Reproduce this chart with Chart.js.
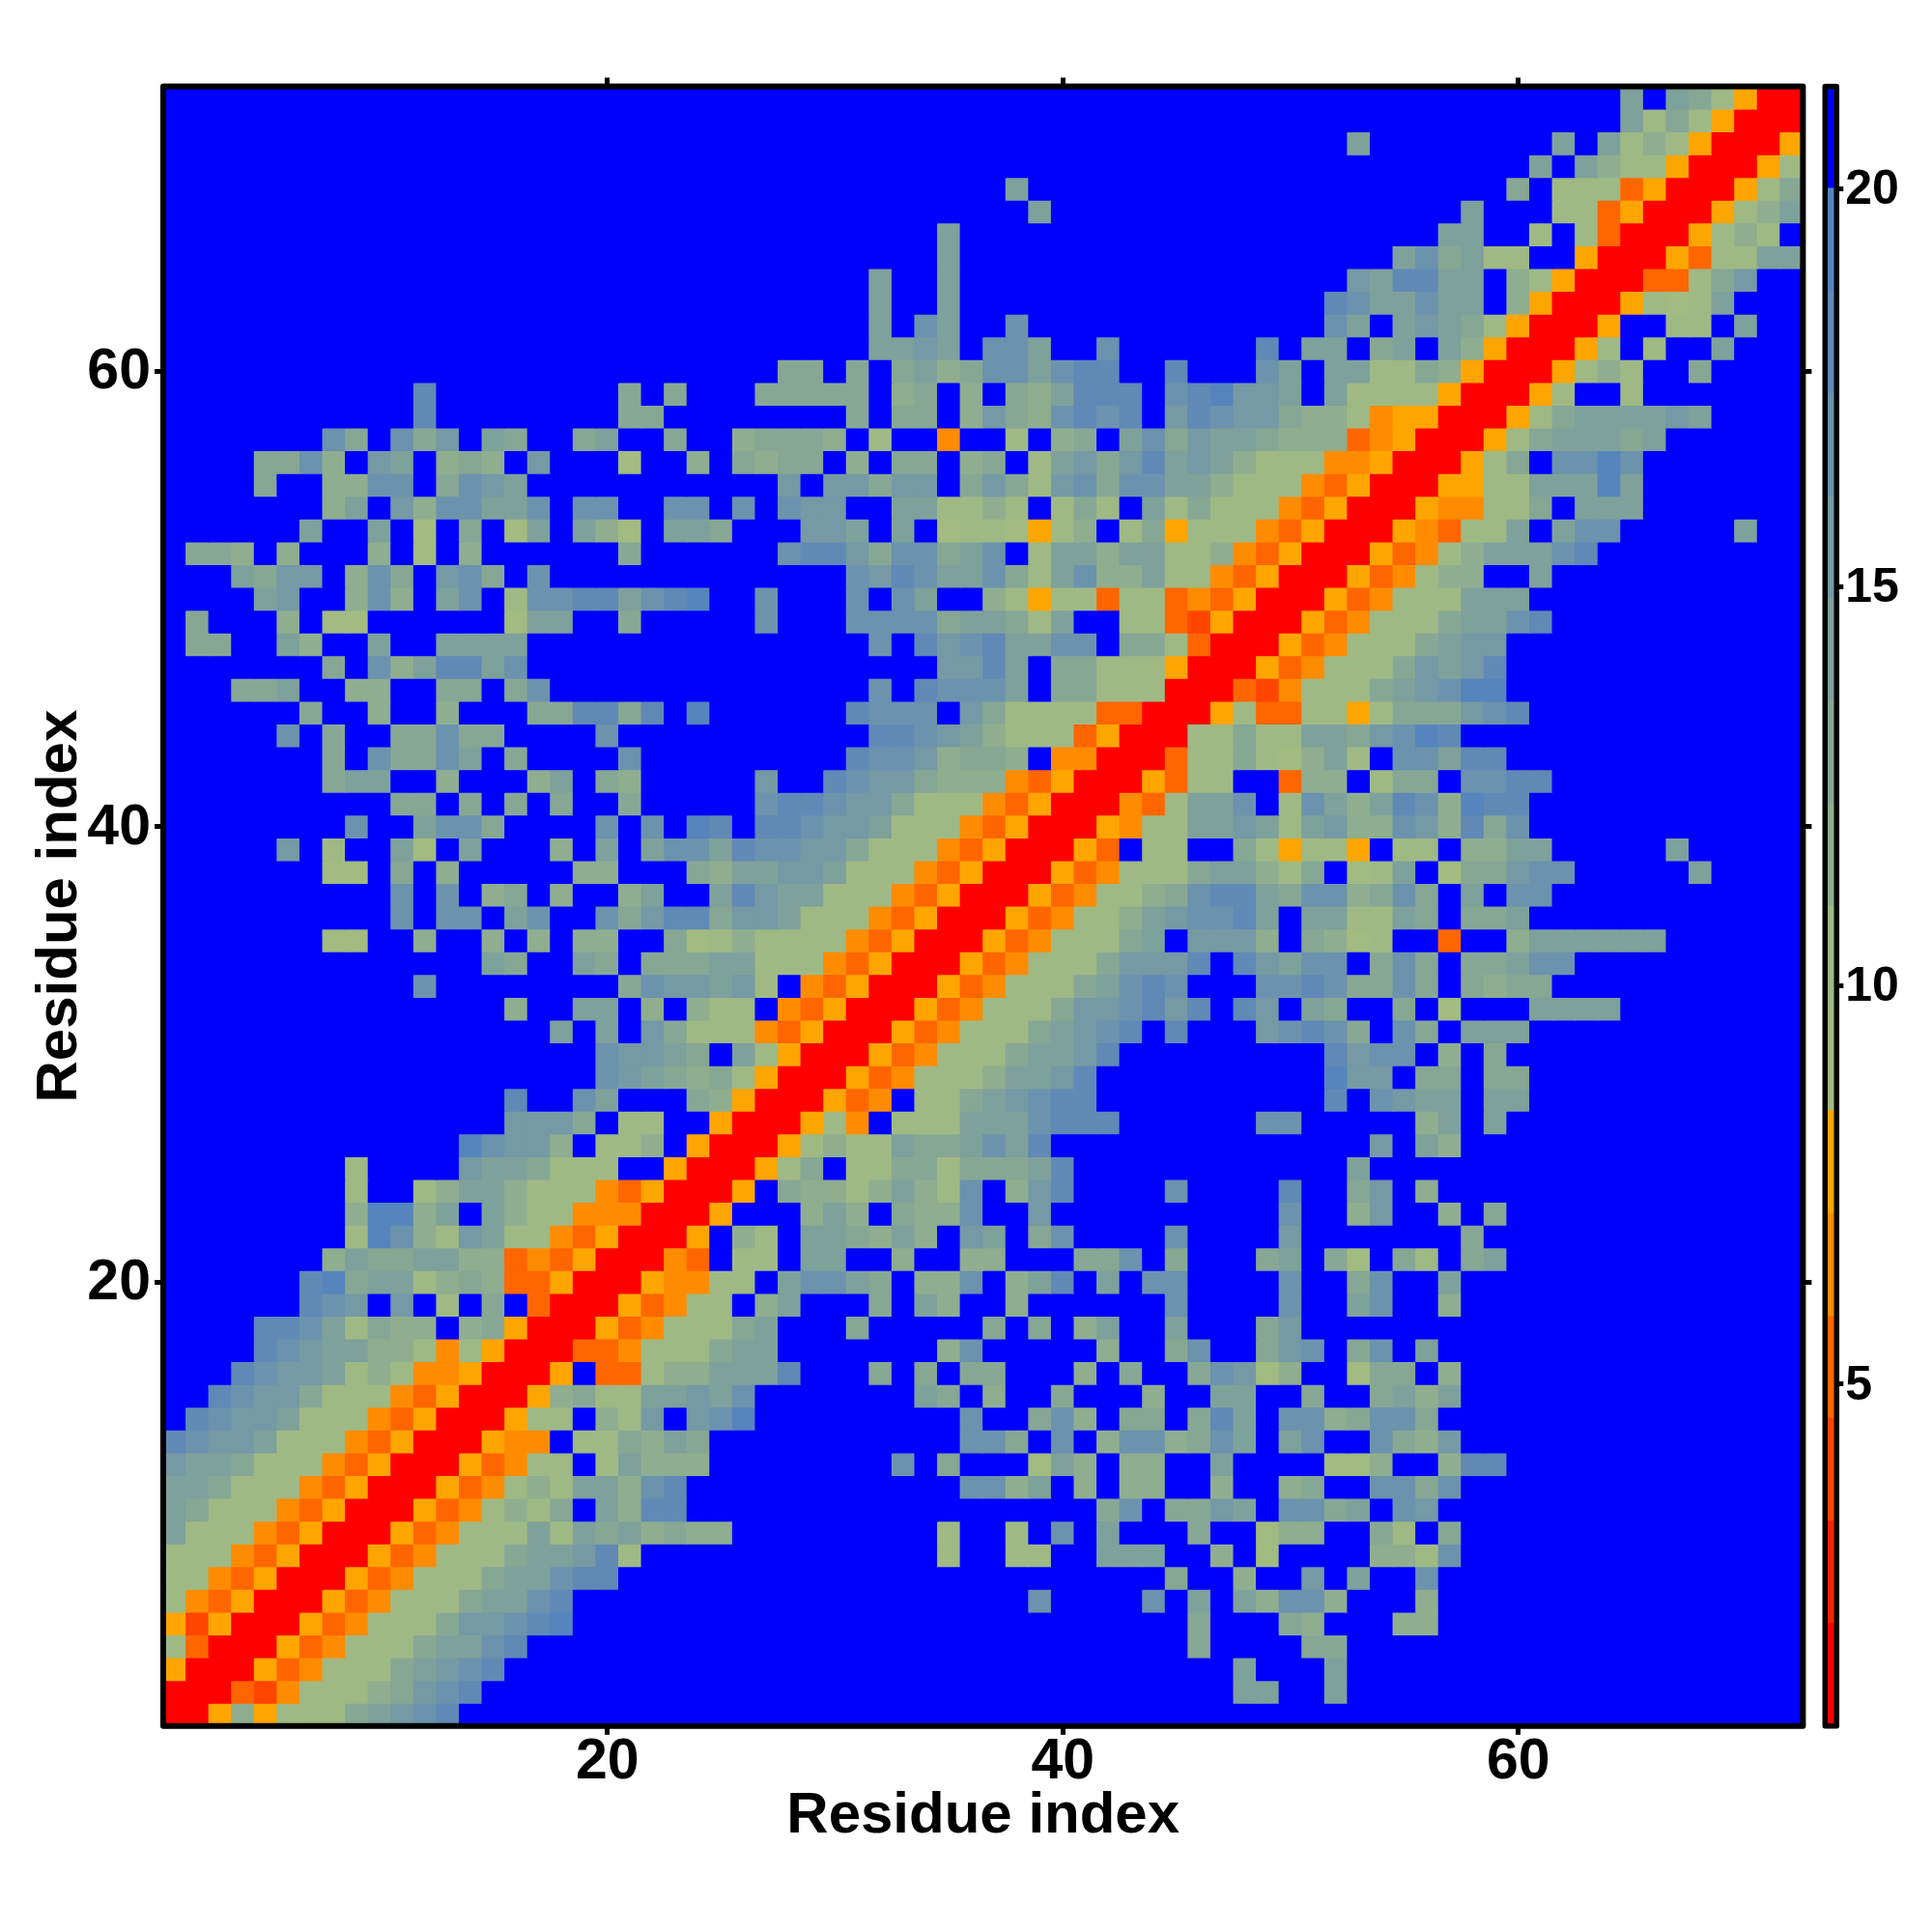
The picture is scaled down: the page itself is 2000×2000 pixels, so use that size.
<!DOCTYPE html>
<html>
<head>
<meta charset="utf-8">
<title>Residue contact map</title>
<script src="https://cdn.jsdelivr.net/npm/chart.js@4"></script>
<style>
  html, body { margin: 0; background: #fff; }
  canvas { position: absolute; top: 0; }
  #map { left: 0; }
  #bar { left: 1880px; }
</style>
</head>
<body>
<canvas id="map" width="2000" height="2000"></canvas>
<canvas id="bar" width="120" height="2000"></canvas>
<script>
const axisTicks = [20, 40, 60];
const barTicks = [5, 10, 15, 20];

// colour bands of the key, bottom to top
const levelEdges = [0.71, 2.0, 3.28, 4.57, 5.85, 7.14, 8.43, 9.71, 11.0, 12.28, 13.57, 14.85, 16.14, 17.43, 18.71, 20.0, 21.28];
const levelColors = ['#ff0000', '#ff2200', '#ff4500', '#ff6600', '#ff8c00', '#ffa500',
  '#a1bb80', '#9fb985', '#8fae8f', '#87a795', '#7fa19b', '#7599a5', '#6b93ad', '#6089b5', '#5585bc', '#0000ff'];

// one string per row, top row (72) first, ten columns per group
// each character is a band of the key in hex, '.' is the top band
const levelRows = [
  ".......... .......... .......... .......... .......... .......... ....a.a975 00",
  ".......... .......... .......... .......... .......... .......... ....a79750 00",
  ".......... .......... .......... .......... .......... ..a....... .a.a787500 05",
  ".......... .......... .......... .......... .......... .......... a.a8775000 57",
  ".......... .......... .......... .......a.. .......... .........9 .777350005 79",
  ".......... .......... .......... ........a. .......... .......a.. .773500057 8a",
  ".......... .......... .......... ....a..... .......... ......aa.. 7.73000578 7.",
  ".......... .......... .......... ....a..... .......... ....ac9a77 ..50005377 aa",
  ".......... .......... .......... .a..a..... .......... ..baddaa.8 750003379b ..",
  ".......... .......... .......... .a..a..... .......... .dcaacaa.8 50005767a. ..",
  ".......... .......... .......... .a.ca..c.. .......... .ca.aba975 0005..77.a ..",
  ".......... .......... .......... .aaba.cca. .c......d. aa.9a.a850 0057.7..a. ..",
  ".......... .......... .......99. 9.9a89ccac dd..d...ca .aa7798500 05787..9.. ..",
  ".......... .d........ 9.9...9999 9.89.8.98a ddd.cdebba .a77775000 57..7..... ..",
  ".......... .d........ 99........ 9.99.8b98c dcd.bdcbb9 8874550005 79aaaaba.. ..",
  ".......c9. c9b.a9..9a ..9..89998 .7..4..7.8 9.ac9baa98 8834500057 9aaa9a.... ..",
  "....99c8.b a.898.b... 6..8.9899. 8.99.89.7a b9bdaba877 7445000579 .ccec..... ..",
  "....9..88c c.9cba.... .......b.b b9bb.9b97b c9ccaa8777 4350005577 aaaea..... ..",
  ".......8a. b8ccaac.cc ..cc.c.cbb ..aa7787.7 97.a797774 3500054477 9.aaa..... ..",
  "......a..a .6.9.6a.a8 6.aa9...bb a.a.677657 8.79577743 500054377a .acc.....a ..",
  ".998.8...8 .6.8...... 9......cdd b9cc9ac.7a a8aa778435 00053478aa acd....... ..",
  "...a9bb.8c 9.bc9.c... .......... cbdcaac97a c88a774350 00534788.. a......... ..",
  "....ab..8c 8.ac.7ccdd acde..c... c.ca..8757 7377343500 0534777aaa .......... ..",
  ".9...8.66. .....6aa.. 9.....c... cccc9aa97a ..77325000 5347779aac d......... ..",
  ".99..a8..a ..aaaa.... .......... .c.dbcdaac c.99730005 347779abb. .......... ..",
  ".......9.c 8addac.... .......... ....bbda.9 9777500053 47779babd. .......... ..",
  "...99a..88 ..99.9c... .......... .c.dccca.9 9777000324 7779abcee. .......... ..",
  "......9..8 ..8...99dd 9d.e...... dccc.b9777 7330005733 7757999bcd .......... ..",
  ".....c.9.. 99c99....c .......... .ddcba8777 3500077977 aa9bced... .......... ..",
  ".......9.c 99ca.9.... c......... dccb8998.4 4000377976 8a7.ccadd. .......... ..",
  ".......9aa ..8...8a.9 8.....b..d cbb9888435 0005377..3 88.799.ccd d......... ..",
  ".......... 99.9.9.9.. 9.....cddc bb97774350 00437aac.7 ca8adc8edd .......... ..",
  "........c. .acc9....c .c.ed.ddcb ba77743500 05477aaba7 ab88cb8d9c .......... ..",
  ".....b.7.. a6.a...8.a .accadccbb 9777435000 53.77..975 775.77.88a a.....a... ..",
  ".......66. 9.8.....88 ...98aabba 7774350005 347779aa87 9.67a.699b cc.....a.. ..",
  ".......... c.c.89.8.. 8a..adbaa7 7743500053 47789cdda9 cc89c9.a.c c......... ..",
  ".......... c.cc.ac..c 9bdd9bba77 7435000534 778abccda. aa77a9.99a .......... ..",
  ".......66. .8..8.8.88 ..96787777 4350005347 779a.bbb8. 9867..3..8 aaaaaa.... ..",
  ".......... ....a9..a9 .999aa7774 3500053477 79bbbd.dba cc.9c9.99a cc........ ..",
  ".......... .c........ 9cbbab7.43 5000534777 9acdc...cc dc99c9.989 9......... ..",
  ".......... .....8..aa .8.877.435 0005347779 bbcdbd.db. a9..9.6... aaaa...... ..",
  ".......... .......a.a .b97774350 005347779a bcd.d...bc dc9.c9.aaa .......... ..",
  ".......... .........c bba9.a7500 05347779aa bd........ .dbcc.8.9. .......... ..",
  ".......... .........c ba98975000 5347778aab d......... .ebb.99.99 .......... ..",
  ".......... .....d..ca ...9850005 34.779abcd d......... .d.cbaa.aa .......... ..",
  ".......... .....bbb9. 77..500057 4.777aaacd dd......cc .....8a.a. .......... ..",
  ".......... ...ecbb8.7 78.5000578 77a99acad. .......... ...b.a8... .......... ..",
  "........7. ...baa9777 ..5000579. 77997999ad .......... ..a....... .......... ..",
  "........7. .78aa87774 350005.988 78a87c.8bd ....c....d ..9b.8.... .......... ..",
  "........8e e8a.a87744 40005...8a 8.988c..b. .........c ..8b..8.9. .......... ..",
  "........7e c87ba77435 0005.87.aa 98a8.ba.9c ....c....b .......9.. .......... ..",
  ".......8a9 9aa8834350 0043.77.aa ..8..88... 99c.9...9a .96.97.9a. .......... ..",
  "......de9a a789833500 054477.acc a9.88c.8ad .a.cc....c ..9c..a... .......... ..",
  "......dcb. b.7.9.3000 53477.8a.. .9.a8..8.. ....c....c ..ac..8... .......... ..",
  "....ddca79 88.8950005 347779a... 9.....9.9. 8a..a...9b .......... .......... ..",
  "....dcbaa8 8747500033 47779aa... ....8c.... .8..9c..9b c.9c.a.... .......... ..",
  "...dcbba78 74450005.3 3788aaad.. .9.9.99... 8.9..9cb68 ..699.8... .......... ..",
  "..dcbb9777 4350005897 7aabac.... ...a9.8..9 ...8..aa.. 9..9a8a... .......... ..",
  ".dcbba7774 35000577.8 7b.bce.... .....c..9c 8.99.9da.c c89cc9.... .......... ..",
  "dcbba77743 5000544.77 98a9...... .....cc9.c .8cc89ca.a c..c98b... .......... ..",
  "baa9777435 00053477.7 a888...... ..c.9...6a 8.88..a... .668..8dd. .......... ..",
  "aa97774350 00534787aa 8cd....... .....cc8a. 8.88..8..8 9..cc9c... .......... ..",
  "a977743500 05347879.a 8dd....... .......... .9c.99ba.c c9a.cb.... .......... ..",
  "a777435000 534777a7a9 a8988..... ....7..7.c .a...9..68 8..97.9... .......... ..",
  "7774350005 347779aabd 7......... ....7..77. .aaa..8.6. ...887c... .......... ..",
  "7743500053 47779aacdd .......... .......... ....9..8.. b.a..c.... .......... ..",
  "7435000534 7779aacd.. .......... ........c. ...c.a.a8c c8...8.... .......... ..",
  "5250005347 779bbcde.. .......... .......... .....9...9 8...88.... .......... ..",
  "7300053477 79aacd.... .......... .......... .....9.... 99........ .......... ..",
  "5000534777 9abcd..... .......... .......... .......a.. .a........ .......... ..",
  "0003247778 9bcd...... .......... .......... .......aa. .a........ .......... ..",
  "005857779a bcd....... .......... .......... .......... .......... .......... .."
];

Chart.defaults.font.family = '"Liberation Sans", Arial, sans-serif';
Chart.defaults.font.weight = 'bold';
Chart.defaults.color = '#000';

const cells = levelRows.map(r => r.replace(/ /g, '').split('').map(ch => ch === '.' ? 15 : parseInt(ch, 16)));

const mapDatasets = cells.map((row, i) => {
  const yVal = 72 - i;
  return {
    data: row.map((lvl, j) => ({ x: j + 1, y: [yVal - 0.5, yVal + 0.5] })),
    backgroundColor: row.map(lvl => levelColors[lvl]),
    borderWidth: 0,
    inflateAmount: 0.5,
    barPercentage: 1,
    categoryPercentage: 1,
    grouped: false
  };
});

// black box centred on the edge of the plot
const framePlugin = {
  id: 'frame',
  afterDraw(chart, args, opts) {
    const a = chart.chartArea, c = chart.ctx;
    c.save();
    c.strokeStyle = '#000';
    c.lineWidth = opts.lineWidth;
    c.lineJoin = 'round';
    c.strokeRect(a.left, a.top, a.width, a.height);
    c.restore();
  }
};

function setTicks(values) {
  return axis => { axis.ticks = values.map(v => ({ value: v })); };
}
function sideAxis(position, values) {
  return {
    type: 'linear',
    position: position,
    min: 0.5,
    max: 72.5,
    offset: false,
    afterBuildTicks: setTicks(values),
    afterFit: axis => {
      if (position === 'top') axis.height = 13; else axis.width = 13;
    },
    ticks: { display: false },
    border: { display: false },
    grid: { offset: false, drawOnChartArea: false, color: '#000', tickLength: 9, tickWidth: 5 }
  };
}

new Chart(document.getElementById('map'), {
  type: 'bar',
  data: { datasets: mapDatasets },
  plugins: [framePlugin],
  options: {
    responsive: false,
    animation: false,
    events: [],
    layout: { padding: { left: 0, top: 76.4, right: 120.6, bottom: 0 } },
    plugins: { legend: { display: false }, tooltip: { enabled: false }, frame: { lineWidth: 6 } },
    scales: {
      x: {
        type: 'linear',
        position: 'bottom',
        min: 0.5,
        max: 72.5,
        offset: false,
        afterBuildTicks: setTicks(axisTicks),
        afterFit: axis => { axis.height = 213.2; },
        ticks: { font: { size: 59 }, padding: -6, maxRotation: 0 },
        border: { display: false },
        grid: { offset: false, drawOnChartArea: false, color: '#000', tickLength: 9, tickWidth: 5 },
        title: { display: true, text: 'Residue index', font: { size: 60 }, padding: { top: 0, bottom: 84 } }
      },
      y: {
        type: 'linear',
        position: 'left',
        min: 0.5,
        max: 72.5,
        afterBuildTicks: setTicks(axisTicks),
        afterFit: axis => { axis.width = 169; },
        ticks: { font: { size: 59 }, padding: 4, labelOffset: 2 },
        border: { display: false },
        grid: { drawOnChartArea: false, color: '#000', tickLength: 9, tickWidth: 5 },
        title: { display: true, text: 'Residue index', font: { size: 60 }, padding: { top: 26, bottom: 0 } }
      },
      xTop: sideAxis('top', axisTicks),
      yRight: sideAxis('right', axisTicks)
    }
  }
});

new Chart(document.getElementById('bar'), {
  type: 'bar',
  data: {
    labels: [''],
    datasets: levelColors.map((col, i) => ({
      data: [[levelEdges[i], levelEdges[i + 1]]],
      backgroundColor: col,
      borderWidth: 0,
      inflateAmount: 0.5,
      barPercentage: 1,
      categoryPercentage: 1,
      grouped: false
    }))
  },
  plugins: [framePlugin],
  options: {
    responsive: false,
    animation: false,
    events: [],
    layout: { padding: { left: 9.3, top: 89.4, right: 0, bottom: 213.2 } },
    plugins: { legend: { display: false }, tooltip: { enabled: false }, frame: { lineWidth: 5.5 } },
    scales: {
      x: { display: false },
      y: {
        position: 'right',
        min: 0.71,
        max: 21.28,
        afterBuildTicks: setTicks(barTicks),
        afterFit: axis => { axis.width = 98.7; },
        ticks: { font: { size: 50 }, padding: 2, labelOffset: 2 },
        border: { display: false },
        grid: { drawOnChartArea: false, color: '#000', tickLength: 7, tickWidth: 5 }
      }
    }
  }
});
</script>
</body>
</html>
